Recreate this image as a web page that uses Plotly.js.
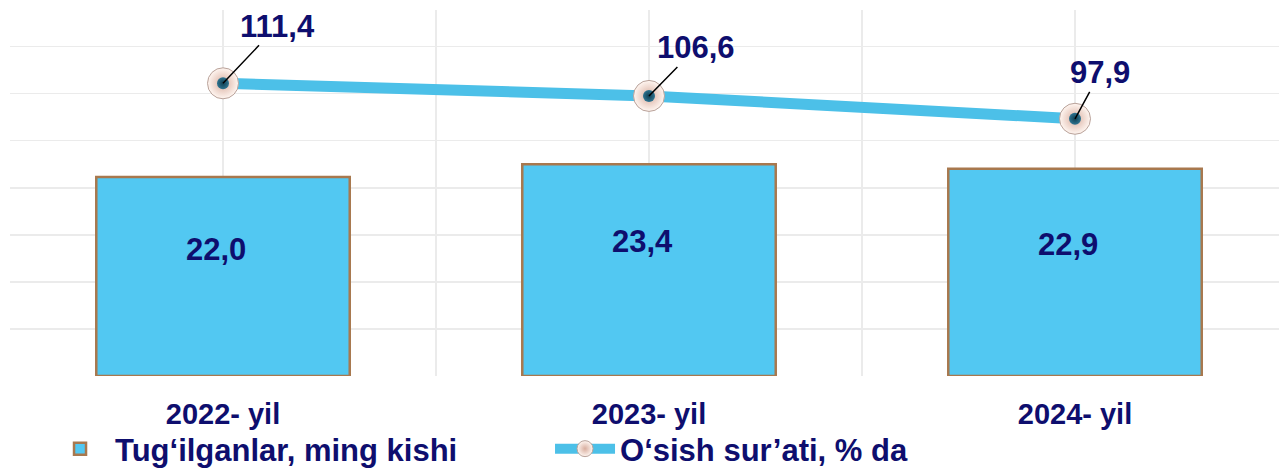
<!DOCTYPE html>
<html><head><meta charset="utf-8">
<script src="https://cdn.plot.ly/plotly-3.0.1.min.js"></script>
<style>html,body{margin:0;padding:0;background:#fff;} #chart{width:1279px;height:470px;}</style>
</head><body><div id="chart"></div>
<script>
// ---- data ----
const categories = ['2022- yil', '2023- yil', '2024- yil'];
const births = [22.0, 23.4, 22.9];          // Tug‘ilganlar, ming kishi
const growth = [111.4, 106.6, 97.9];        // O‘sish sur’ati, % da
const seriesNames = ['Tug‘ilganlar, ming kishi', 'O‘sish sur’ati, % da'];

// ---- styling helpers (not data) ----
const lineLabelOffsets = [[54, -57], [47, -48], [25, -46]];
const navy = '#0E0E6E';
const fam = '"Liberation Sans", Arial, sans-serif';
const fmt = v => v.toFixed(1).replace('.', ',');

const xs = categories.map((c, i) => i);
const tickvals = [], ticktext = [];
xs.forEach((x, i) => { tickvals.push(x - 0.5, x); ticktext.push('', categories[i]); });
tickvals.push(xs[xs.length - 1] + 0.5); ticktext.push('');

const traces = [
  { type: 'bar', x: xs, y: births, name: seriesNames[0], width: 0.595,
    marker: { color: '#52C8F2', line: { color: '#A8784E', width: 2.5 } } },
  { type: 'scatter', mode: 'lines+markers', x: xs, y: growth, name: seriesNames[1], yaxis: 'y2',
    line: { color: '#4CC0E8', width: 11 },
    marker: { size: 31, color: '#FFF6F1', gradient: { type: 'radial', color: '#D8AE9F' },
              line: { color: '#B9A29A', width: 1 } } },
  { type: 'scatter', mode: 'markers', x: xs, y: growth, yaxis: 'y2', showlegend: false,
    marker: { size: 12, color: '#2F7490', gradient: { type: 'radial', color: '#103F52' } } }
];

const annotations = [];
births.forEach((v, i) => annotations.push({
  x: xs[i], y: v * 0.635, xref: 'x', yref: 'y', text: fmt(v), showarrow: false, xshift: -7,
  font: { family: fam, size: 31, color: navy, weight: 'bold' }
}));
growth.forEach((v, i) => annotations.push({
  x: xs[i], y: v, xref: 'x', yref: 'y2', text: fmt(v), showarrow: true,
  ax: lineLabelOffsets[i][0], ay: lineLabelOffsets[i][1], arrowhead: 0, arrowwidth: 1.5,
  arrowcolor: '#000', standoff: 0, startstandoff: 0,
  font: { family: fam, size: 31, color: navy, weight: 'bold' }
}));

const layout = {
  width: 1279, height: 470,
  margin: { l: 10, r: 0, t: 10, b: 94, autoexpand: false },
  paper_bgcolor: '#fff', plot_bgcolor: '#fff',
  showlegend: true,
  xaxis: { range: [-0.5, -0.5 + 1269 / 426], tickmode: 'array', tickvals: tickvals, ticktext: ticktext,
           showgrid: true, gridcolor: '#EBEBEB', gridwidth: 1.5, zeroline: false, showline: false,
           ticks: '', ticklabelstandoff: 18, automargin: false,
           tickfont: { family: fam, size: 29, color: navy, weight: 'bold' } },
  yaxis: { range: [0, 40.44], tick0: 0, dtick: 5.2, showgrid: true, gridcolor: '#EBEBEB', gridwidth: 1.5,
           zeroline: false, showticklabels: false, ticks: '' },
  yaxis2: { range: [0, 139.3], overlaying: 'y', side: 'right', showgrid: false, zeroline: false,
            showticklabels: false, ticks: '' },
  legend: { orientation: 'h', x: 0.0276, y: -0.2732, xanchor: 'left', yanchor: 'bottom',
            itemwidth: 60, entrywidth: 430, bgcolor: 'rgba(0,0,0,0)', tracegroupgap: 0,
            font: { family: fam, size: 31, color: navy, weight: 'bold' } },
  annotations: annotations
};

Plotly.newPlot('chart', traces, layout, { staticPlot: true, displayModeBar: false });
</script>
</body></html>
